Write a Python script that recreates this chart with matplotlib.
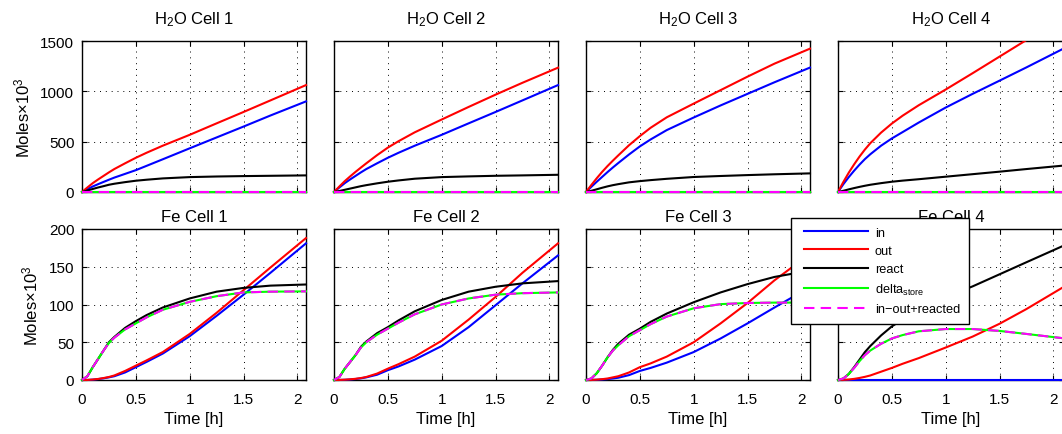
import numpy as np
import matplotlib
matplotlib.use("Agg")
import matplotlib.pyplot as plt
from matplotlib.ticker import FormatStrFormatter
from matplotlib.legend_handler import HandlerLine2D

plt.rcParams['font.family'] = ['Liberation Sans', 'DejaVu Sans']
plt.rcParams['mathtext.fontset'] = 'custom'
plt.rcParams['mathtext.rm'] = 'Liberation Sans'
plt.rcParams['mathtext.it'] = 'Liberation Sans:italic'
plt.rcParams['mathtext.bf'] = 'Liberation Sans:bold'
plt.rcParams['font.size'] = 11

# time axis [h]
t_h = [0, 0.05, 0.1, 0.15, 0.2, 0.25, 0.3, 0.4, 0.5, 0.6, 0.75, 1.0, 1.25, 1.5, 1.75, 2.08]

# ---- H2O, moles x 1e3 ----
h2o_in_1 = [0, 28, 55, 78, 100, 122, 143, 180, 217, 260, 325, 434, 542, 650, 760, 900]
h2o_out_1 = [0, 45, 88, 125, 160, 195, 228, 285, 340, 390, 460, 568, 682, 795, 910, 1062]
h2o_react_1 = [0, 15, 30, 45, 58, 72, 82, 98, 112, 122, 135, 148, 154, 158, 161, 165]

h2o_in_2 = [0, 45, 88, 125, 160, 195, 228, 285, 340, 390, 460, 568, 682, 795, 910, 1062]
h2o_out_2 = [0, 55, 108, 155, 200, 243, 285, 366, 441, 505, 593, 720, 845, 967, 1085, 1235]
h2o_react_2 = [0, 10, 22, 34, 46, 58, 68, 86, 102, 115, 132, 148, 155, 161, 165, 171]

h2o_in_3 = [0, 52, 102, 150, 198, 244, 288, 373, 453, 522, 615, 740, 860, 975, 1090, 1236]
h2o_out_3 = [0, 70, 137, 200, 258, 312, 364, 465, 555, 638, 742, 878, 1012, 1146, 1275, 1424]
h2o_react_3 = [0, 12, 27, 42, 56, 68, 78, 96, 108, 118, 131, 149, 159, 168, 176, 185]

h2o_in_4 = [0, 78, 148, 212, 272, 327, 375, 460, 532, 595, 690, 839, 975, 1106, 1238, 1417]
h2o_out_4 = [0, 100, 192, 275, 352, 422, 485, 590, 680, 758, 862, 1018, 1180, 1345, 1510, 1710]
h2o_react_4 = [0, 12, 26, 39, 51, 62, 72, 88, 102, 113, 127, 152, 177, 202, 228, 261]

h2o_store = [0, 0, 0, 0, 0, 0, 0, 0, 0, 0, 0, 0, 0, 0, 0, 0]

# ---- Fe, moles x 1e3 ----
fe_in_1 = [0, 0.1, 0.5, 1.2, 2.2, 3.5, 5, 10, 17, 24, 35, 58, 85, 113, 142, 181]
fe_out_1 = [0, 0.1, 0.6, 1.4, 2.6, 4, 6, 12, 19, 26, 37, 61, 89, 119, 149, 188]
fe_react_1 = [0, 5, 17, 28, 39, 50, 57, 69, 78, 86, 96, 108, 117, 122, 125, 126.5]
fe_store_1 = [0, 5, 17, 28, 39, 49, 56, 67, 75, 83, 93, 103.5, 111, 116, 117, 117.4]

fe_in_2 = [0, 0.1, 0.3, 0.7, 1.3, 2.2, 3.5, 7, 13, 18, 27, 45, 70, 99, 128, 165]
fe_out_2 = [0, 0.1, 0.4, 0.9, 1.6, 2.6, 4, 8.5, 15, 21, 31, 52, 80, 110, 142, 181]
fe_react_2 = [0, 4, 15, 24, 33, 44, 51, 62, 70, 79, 91, 106, 117, 123.5, 128, 131]
fe_store_2 = [0, 4, 15, 24, 33, 43, 50, 60, 68, 76, 87, 100, 108, 113, 115, 116]

fe_in_3 = [0, 0.1, 0.3, 0.7, 1.2, 2, 3, 6.5, 12, 16, 23, 37, 55, 75, 96, 123]
fe_out_3 = [0, 0.1, 0.5, 1.1, 2, 3.5, 5, 10, 17, 22, 31, 50, 75, 102, 132, 167]
fe_react_3 = [0, 2, 9, 19, 30, 40, 48, 60, 68, 77, 88, 103, 116, 127, 136.5, 145]
fe_store_3 = [0, 2, 9, 19, 30, 39, 46, 58, 66, 74, 84, 95, 100.5, 102, 102.5, 102.5]

fe_in_4 = [0, 0, 0, 0, 0, 0, 0, 0, 0, 0, 0, 0, 0, 0, 0, 0]
fe_out_4 = [0, 0.2, 0.7, 1.5, 2.7, 4.2, 6, 11, 16, 21.5, 29, 43, 57.5, 74.5, 94, 122]
fe_react_4 = [0, 2, 8, 17, 27, 37, 45, 59, 71, 80, 93, 110, 124, 140, 156, 177]
fe_store_4 = [0, 2, 8, 16, 25, 33, 39, 48, 55, 59.5, 64.5, 67.5, 67.5, 65, 61, 55.5]

h2o_cells = [(h2o_in_1, h2o_out_1, h2o_react_1, h2o_store),
             (h2o_in_2, h2o_out_2, h2o_react_2, h2o_store),
             (h2o_in_3, h2o_out_3, h2o_react_3, h2o_store),
             (h2o_in_4, h2o_out_4, h2o_react_4, h2o_store)]
fe_cells = [(fe_in_1, fe_out_1, fe_react_1, fe_store_1),
            (fe_in_2, fe_out_2, fe_react_2, fe_store_2),
            (fe_in_3, fe_out_3, fe_react_3, fe_store_3),
            (fe_in_4, fe_out_4, fe_react_4, fe_store_4)]

titles_top = [r'H$_2$O Cell %d' % i for i in range(1, 5)]
titles_bot = ['Fe Cell %d' % i for i in range(1, 5)]
legend_labels = ['in', 'out', 'react', r'delta$_{\mathrm{store}}$', 'in\u2212out+reacted']

W, H = 1062., 435.
fig = plt.figure(figsize=(W / 100, H / 100), dpi=100)

lefts = [82, 334, 586, 838]
ax_w = 224
rows = [(42, 193), (230, 381)]
xmax = 2.08

handles = None
for r in range(2):
    top, bot = rows[r]
    for c in range(4):
        w = ax_w if c < 3 else ax_w + 2
        ax = fig.add_axes([lefts[c] / W, 1 - bot / H, w / W, (bot - top) / H])
        data = h2o_cells[c] if r == 0 else fe_cells[c]
        v_in, v_out, v_react, v_store = data
        clip_out = (r == 0 and c == 3)   # only this one runs off the top
        l1, = ax.plot(t_h, v_in, color='#0000ff', lw=1.5, zorder=3, clip_on=False)
        l2, = ax.plot(t_h, v_out, color='#ff0000', lw=1.5, zorder=3, clip_on=clip_out)
        l3, = ax.plot(t_h, v_react, color='k', lw=1.5, zorder=3, clip_on=False)
        l4, = ax.plot(t_h, v_store, color='#00ff00', lw=1.5, zorder=3, clip_on=False)
        l5, = ax.plot(t_h, v_store, color='#ff00ff', lw=1.5, dashes=(5, 3),
                      zorder=3, clip_on=False)
        handles = [l1, l2, l3, l4, l5]

        ax.set_xlim(0, xmax * w / ax_w)
        ax.set_xticks([0, 0.5, 1, 1.5, 2])
        ax.xaxis.set_major_formatter(FormatStrFormatter('%g'))
        if r == 0:
            ax.set_ylim(0, 1500)
            ax.set_yticks([0, 500, 1000, 1500])
            ax.set_title(titles_top[c], pad=13, fontsize=12)
        else:
            ax.set_ylim(0, 200)
            ax.set_yticks([0, 50, 100, 150, 200])
            ax.set_title(titles_bot[c], pad=6, fontsize=12)
            ax.set_xlabel('Time [h]', labelpad=3, fontsize=12)
        ax.tick_params(direction='in', top=True, right=True, length=3.5,
                       width=0.8, labelsize=11)
        ax.tick_params(axis='x', pad=9)
        ax.tick_params(axis='y', pad=5.5)
        ax.tick_params(labelbottom=(r == 1), labelleft=(c == 0))
        if c == 0:
            ax.set_ylabel('Moles\u00d710$^3$', labelpad=6, fontsize=12)
        ax.grid(True, color='k', linestyle=(0, (1, 5)), linewidth=0.7)
        for s in ax.spines.values():
            s.set_linewidth(1.0)

hmap = {h: HandlerLine2D(xpad=0.33) for h in handles}
leg = fig.legend(handles, legend_labels, loc='upper left',
                 bbox_to_anchor=(791 / W, 1 - 219 / H), fancybox=False,
                 edgecolor='k', framealpha=1, fontsize=9.2, handlelength=5.33,
                 handletextpad=0.55, borderaxespad=0, borderpad=0.67,
                 labelspacing=0.5, handler_map=hmap)
leg.get_frame().set_linewidth(1.0)

fig.savefig('out.png', dpi=100, facecolor='white')
